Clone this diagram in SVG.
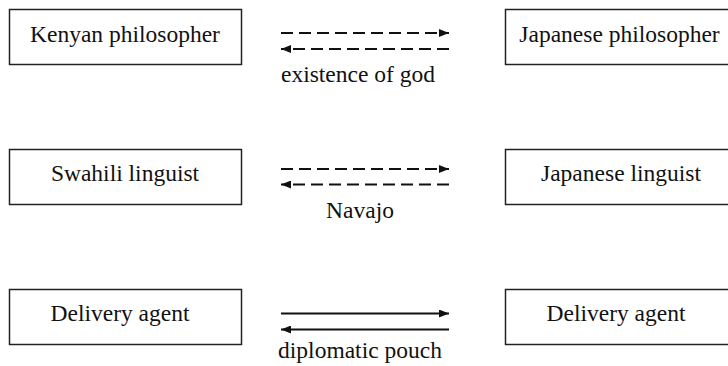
<svg xmlns="http://www.w3.org/2000/svg" width="728" height="366" viewBox="0 0 728 366">
<style>
.box{fill:#fff;stroke:#222;stroke-width:1.5}
.t{font-family:"Liberation Serif","Times New Roman",serif;font-size:23.5px;fill:#111;text-anchor:middle}
.a{stroke:#111;stroke-width:2;fill:none}
.d{stroke-dasharray:12 6}
</style>
<defs>
<marker id="ah" viewBox="0 0 10 8" refX="10" refY="4" markerWidth="10" markerHeight="8" markerUnits="userSpaceOnUse" orient="auto">
<path d="M0,0 L10,4 L0,8 Z" fill="#111"/>
</marker>
</defs>
<rect width="728" height="366" fill="#fff"/>
<g id="kenyan-philosopher"><rect class="box" x="9.5" y="9.5" width="232" height="55"/><text class="t" x="125" y="42">Kenyan philosopher</text></g>
<g id="japanese-philosopher"><rect class="box" x="505.5" y="9.5" width="235" height="55"/><text class="t" x="619.5" y="42">Japanese philosopher</text></g>
<g id="swahili-linguist"><rect class="box" x="9.5" y="149.5" width="232" height="55"/><text class="t" x="125" y="181">Swahili linguist</text></g>
<g id="japanese-linguist"><rect class="box" x="505.5" y="149.5" width="235" height="55"/><text class="t" x="621" y="181">Japanese linguist</text></g>
<g id="delivery-agent-left"><rect class="box" x="9.5" y="289.5" width="232" height="55"/><text class="t" x="120" y="321">Delivery agent</text></g>
<g id="delivery-agent-right"><rect class="box" x="505.5" y="289.5" width="235" height="55"/><text class="t" x="616" y="321">Delivery agent</text></g>
<g id="connectors">
<line class="a d" x1="281" y1="33" x2="449" y2="33" marker-end="url(#ah)"/>
<line class="a d" x1="449" y1="49" x2="281" y2="49" marker-end="url(#ah)"/>
<text class="t" x="358" y="82">existence of god</text>
<line class="a d" x1="281" y1="169" x2="449" y2="169" marker-end="url(#ah)"/>
<line class="a d" x1="449" y1="184.5" x2="281" y2="184.5" marker-end="url(#ah)"/>
<text class="t" x="360" y="218">Navajo</text>
<line class="a" x1="281" y1="313.5" x2="449" y2="313.5" marker-end="url(#ah)"/>
<line class="a" x1="449" y1="329.5" x2="281" y2="329.5" marker-end="url(#ah)"/>
<text class="t" x="360" y="358">diplomatic pouch</text>
</g>
</svg>
